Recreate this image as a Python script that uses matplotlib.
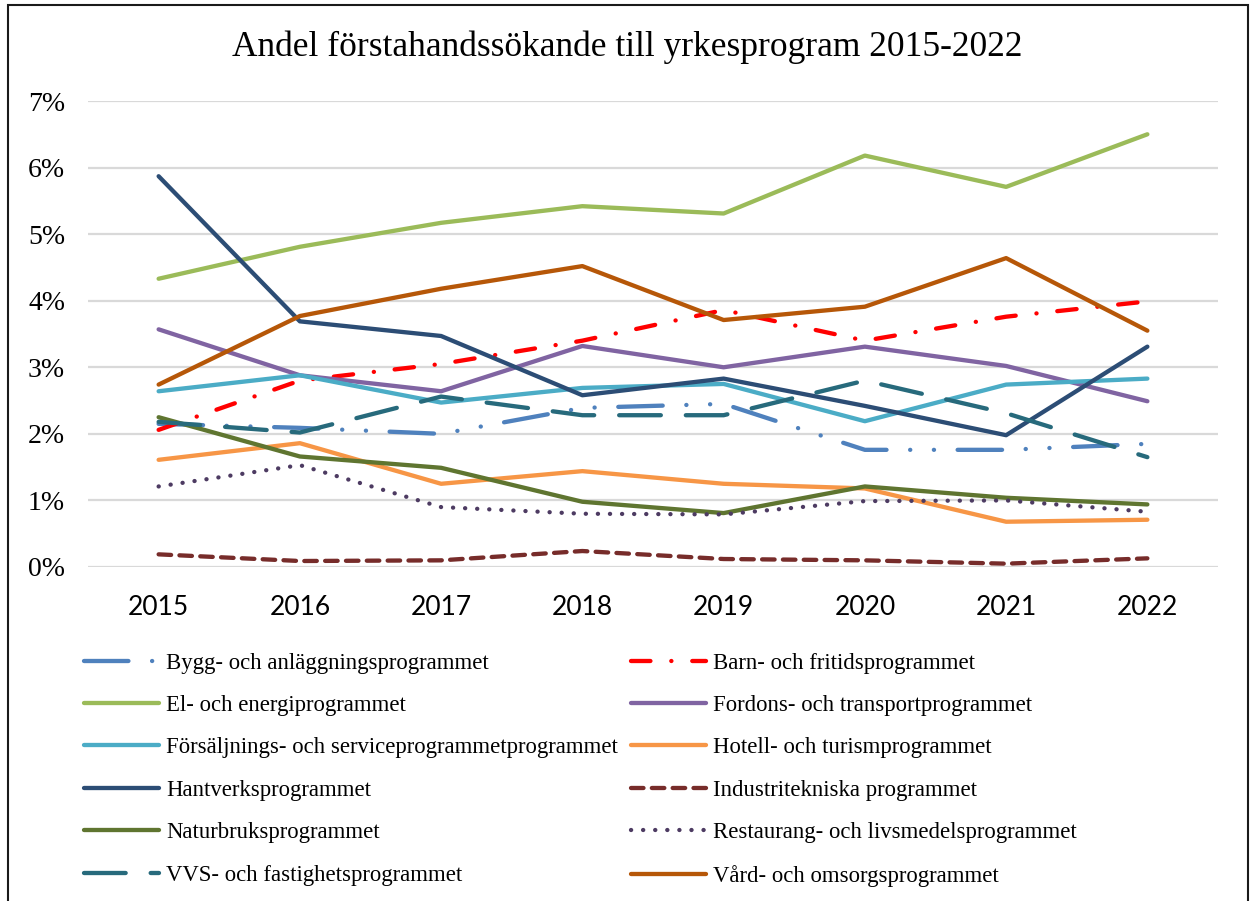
import matplotlib
matplotlib.use("Agg")
import matplotlib.pyplot as plt
from matplotlib.patches import Rectangle
from matplotlib.ticker import FuncFormatter

years = ["2015", "2016", "2017", "2018", "2019", "2020", "2021", "2022"]

bygg = [2.15, 2.09, 2.00, 2.39, 2.45, 1.76, 1.76, 1.85]
barn = [2.06, 2.80, 3.05, 3.40, 3.86, 3.40, 3.76, 3.99]
el = [4.33, 4.81, 5.17, 5.42, 5.31, 6.18, 5.71, 6.50]
fordon = [3.57, 2.88, 2.64, 3.32, 3.00, 3.31, 3.02, 2.49]
forsaljning = [2.64, 2.88, 2.47, 2.69, 2.75, 2.19, 2.74, 2.83]
hotell = [1.61, 1.86, 1.25, 1.44, 1.25, 1.18, 0.68, 0.71]
hantverk = [5.87, 3.69, 3.47, 2.58, 2.83, 2.42, 1.98, 3.31]
industri = [0.19, 0.09, 0.10, 0.24, 0.12, 0.10, 0.05, 0.13]
naturbruk = [2.25, 1.66, 1.49, 0.98, 0.81, 1.21, 1.04, 0.94]
restaurang = [1.21, 1.53, 0.90, 0.80, 0.79, 0.99, 1.00, 0.83]
vvs = [2.18, 2.02, 2.56, 2.28, 2.28, 2.80, 2.31, 1.65]
vard = [2.74, 3.77, 4.18, 4.52, 3.71, 3.91, 4.64, 3.55]

labels = [
    "Bygg- och anläggningsprogrammet",
    "Barn- och fritidsprogrammet",
    "El- och energiprogrammet",
    "Fordons- och transportprogrammet",
    "Försäljnings- och serviceprogrammetprogrammet",
    "Hotell- och turismprogrammet",
    "Hantverksprogrammet",
    "Industritekniska programmet",
    "Naturbruksprogrammet",
    "Restaurang- och livsmedelsprogrammet",
    "VVS- och fastighetsprogrammet",
    "Vård- och omsorgsprogrammet",
]
series = [bygg, barn, el, fordon, forsaljning, hotell, hantverk, industri,
          naturbruk, restaurang, vvs, vard]

plt.rcParams["lines.scale_dashes"] = False
serif = ["Liberation Serif", "DejaVu Serif"]

styles = [
    dict(color="#4F81BD", dashes=(32, 17, 0.1, 17, 0.1, 17), dash_capstyle="round"),
    dict(color="#FF0000", dashes=(14, 15, 0.1, 15), dash_capstyle="round"),
    dict(color="#9BBB59", ls="-"),
    dict(color="#8064A2", ls="-"),
    dict(color="#4BACC6", ls="-"),
    dict(color="#F79646", ls="-"),
    dict(color="#2C4D75", ls="-"),
    dict(color="#772C2A", dashes=(9, 6), dash_capstyle="round"),
    dict(color="#5F7530", ls="-"),
    dict(color="#4D3B62", dashes=(0.1, 8.6), dash_capstyle="round"),
    dict(color="#276A7C", dashes=(30, 18), dash_capstyle="round"),
    dict(color="#B65708", ls="-"),
]

W, H = 1251, 901
fig = plt.figure(figsize=(W / 100, H / 100), dpi=100)
ax = fig.add_axes([88 / W, 1 - 567 / H, (1218 - 88) / W, (567 - 101) / H])

x = list(range(len(years)))
handles = []
for vals, lab, st in zip(series, labels, styles):
    ln, = ax.plot(x, vals, lw=3.1, label=lab, solid_capstyle="round",
                  solid_joinstyle="round", **st)
    handles.append(ln)

ax.set_xlim(-0.5, len(years) - 0.5)
ax.set_ylim(0, 7)
ax.set_yticks(range(0, 8))
ax.yaxis.set_major_formatter(FuncFormatter(lambda v, p: f"{int(v)}%"))
ax.set_xticks(x)
ax.set_xticklabels(years, fontfamily="Lato", fontsize=19)
for t in ax.get_yticklabels():
    t.set_fontfamily(serif)
    t.set_fontsize(20)
ax.tick_params(axis="both", length=0)
ax.tick_params(axis="y", pad=16.5)
ax.tick_params(axis="x", pad=20)
ax.grid(axis="y", color="#D9D9D9", lw=1.6)
ax.set_axisbelow(True)
for s in ax.spines.values():
    s.set_visible(False)

fig.text(627 / W, 1 - 47 / H, "Andel förstahandssökande till yrkesprogram 2015-2022",
         ha="center", va="center", fontfamily=serif, fontsize=25.5)

col1 = [handles[i] for i in range(0, 12, 2)]
col2 = [handles[i] for i in range(1, 12, 2)]
for hs, xpos in ((col1, 84), (col2, 631)):
    fig.legend(handles=hs, labels=[h.get_label() for h in hs],
               loc="upper left", bbox_to_anchor=(xpos / W, 1 - 652.5 / H),
               frameon=False, ncol=1, handlelength=3.3, handletextpad=0.3,
               labelspacing=0.94, borderaxespad=0, borderpad=0,
               prop={"family": serif, "size": 16.4})

fig.patches.append(Rectangle((8 / W, -0.01), (1248 - 8) / W, 1 - 5 / H + 0.01,
                             transform=fig.transFigure, fill=False,
                             edgecolor="#1a1a1a", lw=1.5))

fig.savefig("out.png", dpi=100)
